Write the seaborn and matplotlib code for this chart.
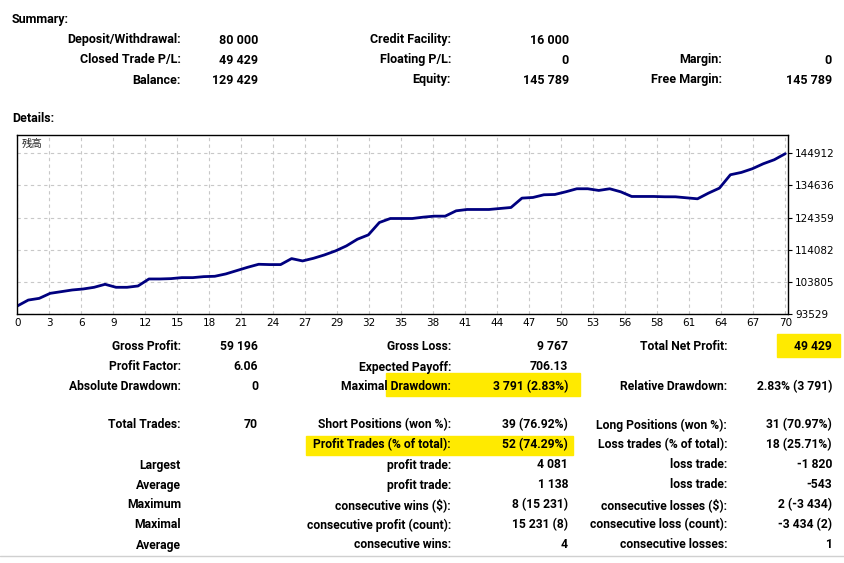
import numpy as np
import pandas as pd
import matplotlib
matplotlib.use("Agg")
import matplotlib.pyplot as plt
import seaborn as sns
from matplotlib.patches import Rectangle

# balance after each closed trade
trades = list(range(71))
balance = [
    96000, 97900, 98450, 100060, 100590, 101130, 101450, 101990, 102950, 101990,
    101990, 102410, 104660, 104660, 104770, 105090, 105090, 105410, 105520, 106270,
    107340, 108410, 109370, 109270, 109270, 111190, 110440, 111290, 112370, 113650,
    115260, 117400, 118790, 122750, 124040, 124040, 124040, 124470, 124790, 124790,
    126500, 126930, 126930, 126930, 127250, 127570, 130570, 130780, 131640, 131740,
    132600, 133570, 133570, 133030, 133570, 132600, 131100, 131100, 131100, 131000,
    130990, 130670, 130350, 132170, 133780, 138060, 138810, 139990, 141590, 142880,
    144810,
]
x_labels = ["0", "3", "6", "9", "12", "15", "18", "21", "24", "27", "29", "32", "35",
            "38", "41", "44", "47", "50", "53", "56", "58", "61", "64", "67", "70"]
y_ticks = [93529, 103805, 114082, 124359, 134636, 144912]

# report rows: (label, value)
summary_col1 = [("Deposit/Withdrawal:", "80 000"), ("Closed Trade P/L:", "49 429"),
                ("Balance:", "129 429")]
summary_col2 = [("Credit Facility:", "16 000"), ("Floating P/L:", "0"),
                ("Equity:", "145 789")]
summary_col3 = [("", ""), ("Margin:", "0"), ("Free Margin:", "145 789")]

details_col1 = [("Gross Profit:", "59 196"), ("Profit Factor:", "6.06"),
                ("Absolute Drawdown:", "0"), None,
                ("Total Trades:", "70"), ("", ""), ("Largest", ""), ("Average", ""),
                ("Maximum", ""), ("Maximal", ""), ("Average", "")]
details_col2 = [("Gross Loss:", "9 767"), ("Expected Payoff:", "706.13"),
                ("Maximal Drawdown:", "3 791 (2.83%)"), None,
                ("Short Positions (won %):", "39 (76.92%)"),
                ("Profit Trades (% of total):", "52 (74.29%)"),
                ("profit trade:", "4 081"), ("profit trade:", "1 138"),
                ("consecutive wins ($):", "8 (15 231)"),
                ("consecutive profit (count):", "15 231 (8)"),
                ("consecutive wins:", "4")]
details_col3 = [("Total Net Profit:", "49 429"), ("", ""),
                ("Relative Drawdown:", "2.83% (3 791)"), None,
                ("Long Positions (won %):", "31 (70.97%)"),
                ("Loss trades (% of total):", "18 (25.71%)"),
                ("loss trade:", "-1 820"), ("loss trade:", "-543"),
                ("consecutive losses ($):", "2 (-3 434)"),
                ("consecutive loss (count):", "-3 434 (2)"),
                ("consecutive losses:", "1")]

sns.set_style("white")
plt.rcParams["font.family"] = ["DejaVu Sans", "Noto Sans CJK JP"]

W, H = 844, 563
fig = plt.figure(figsize=(W / 100, H / 100), dpi=100)


def px(x, y):
    return x / W, 1 - y / H


def put(x, y, s, ha="right", size=8.7):
    fig.text(*px(x, y), s, ha=ha, va="center", fontsize=size, fontweight="bold",
             family="Roboto", color="black")


# yellow marker highlights (behind text)
for (x0, y0, x1, y1) in [(777, 334, 840, 357), (386, 373, 580, 396), (306, 436, 573, 455)]:
    fig.patches.append(Rectangle(px(x0, y1), (x1 - x0) / W, (y1 - y0) / H,
                                 transform=fig.transFigure, color="#ffea00",
                                 zorder=0))

put(12, 19, "Summary:", ha="left", size=9)
put(12, 118, "Details:", ha="left", size=9)

cols = [(181, 258), (451, 569), (722, 832)]
for (lx, vx), rows in zip(cols, [summary_col1, summary_col2, summary_col3]):
    for k, (lab, val) in enumerate(rows):
        y = 40 + 20 * k
        put(lx, y, lab, size=9)
        put(vx, y, val, size=9)

row_y = [347, 367, 387, None, 425, 445, 465, 485, 505, 525, 545]
cols = [(181, 258), (451, 568), (727, 832)]
for (lx, vx), rows in zip(cols, [details_col1, details_col2, details_col3]):
    for y, r in zip(row_y, rows):
        if r is None:
            continue
        put(lx, y, r[0])
        put(vx, y, r[1])

# balance chart
ax = fig.add_axes([17.3 / W, 1 - 313.7 / H, 770.7 / W, 178.7 / H])
df = pd.DataFrame({"trade": trades, "balance": balance})
sns.lineplot(data=df, x="trade", y="balance", ax=ax, color="#00007f", linewidth=2)
ax.set_xlim(0, 70.25)
ax.set_ylim(y_ticks[0], 150800)
ax.set_xticks(np.linspace(0, 70, len(x_labels)))
ax.set_xticklabels(x_labels)
ax.set_yticks(y_ticks)
ax.set_yticklabels([str(v) for v in y_ticks])
ax.yaxis.tick_right()
ax.tick_params(axis="both", labelsize=7.5, colors="black", length=3, width=0.8,
               direction="out", pad=2)
ax.tick_params(axis="x", length=0, pad=3)
ax.grid(True, color="#c8c8c8", linestyle=(0, (3, 3)), linewidth=0.8)
ax.set_xlabel("")
ax.set_ylabel("")
for s in ax.spines.values():
    s.set_color("black")
    s.set_linewidth(1)
ax.text(0.006, 0.95, "残高", transform=ax.transAxes, fontsize=7.5,
        family=["Noto Sans CJK JP", "DejaVu Sans"], va="center", ha="left")

# thin rule at the bottom of the report
fig.add_artist(plt.Line2D([0, 1], [1 - 556 / H] * 2, color="#d0d0d0", linewidth=1))

fig.savefig("out.png", dpi=100, facecolor="white")
